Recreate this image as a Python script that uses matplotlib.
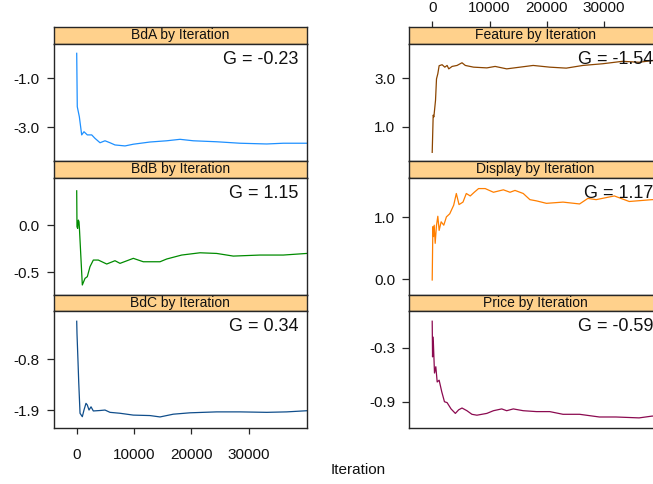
""" Trace plots of the sampled parameters by iteration ( lattice style panels ) """

import matplotlib
matplotlib.use( 'Agg' )
import matplotlib.pyplot as plt

plt.rcParams['font.family'] = [ 'Liberation Sans' , 'DejaVu Sans' ]

### Figure size in pixels
W , H = 653 , 484

### Panel names, colours and Geweke statistics
names = [ 'BdA' , 'BdB' , 'BdC' , 'Feature' , 'Display' , 'Price' ]
colors = [ '#1E90FF' , '#008B00' , '#104E8B' , '#8B4500' , '#FF7F00' , '#8B0A50' ]
g_values = [ '-0.23' , '1.15' , '0.34' , '-1.54' , '1.17' , '-0.59' ]

x_ticks = [ 0 , 10000 , 20000 , 30000 ]

### y ticks
y_ticks = [ [ -1.0 , -3.0 ] , [ 0.0 , -0.5 ] , [ -0.8 , -1.9 ] ,
            [ 3.0 , 1.0 ] , [ 1.0 , 0.0 ] , [ -0.3 , -0.9 ] ]
y_labels = [ [ '-1.0' , '-3.0' ] , [ '0.0' , '-0.5' ] , [ '-0.8' , '-1.9' ] ,
             [ '3.0' , '1.0' ] , [ '1.0' , '0.0' ] , [ '-0.3' , '-0.9' ] ]
y_limits = [ ( -4.375 , 0.40 ) , ( -0.74 , 0.504 ) , ( -2.297 , 0.254 ) ,
             ( -0.40 , 4.40 ) , ( -0.26 , 1.65 ) , ( -1.196 , 0.111 ) ]

### Traces ( iteration , value )
bda_iter = [ 0 , 100 , 460 , 870 , 1270 , 1850 , 2620 , 3190 , 4070 , 4940 , 5810 , 6680 ,
             8430 , 9880 , 12790 , 15700 , 18030 , 20350 , 24430 , 28500 , 33160 , 36060 , 40140 ]
bda_value = [ 0.02 , -2.16 , -2.57 , -3.31 , -3.18 , -3.31 , -3.31 , -3.45 , -3.63 , -3.55 , -3.63 , -3.72 ,
              -3.76 , -3.69 , -3.60 , -3.55 , -3.49 , -3.55 , -3.59 , -3.65 , -3.68 , -3.65 , -3.65 ]

bdb_iter = [ 0 , 50 , 170 , 290 , 400 , 460 , 980 , 1450 , 1850 , 2320 , 2900 , 3770 , 5240 , 6680 ,
             7560 , 9880 , 11620 , 14540 , 15700 , 18320 , 21520 , 24430 , 27330 , 31990 , 36060 , 40140 ]
bdb_value = [ 0.363 , -0.018 , -0.035 , 0.053 , 0.035 , -0.018 , -0.634 , -0.564 , -0.546 , -0.44 , -0.37 ,
              -0.37 , -0.412 , -0.377 , -0.405 , -0.352 , -0.388 , -0.388 , -0.359 , -0.317 , -0.293 , -0.30 ,
              -0.328 , -0.317 , -0.317 , -0.30 ]

bdc_iter = [ 0 , 50 , 230 , 350 , 580 , 980 , 1270 , 1620 , 1850 , 2150 , 2500 , 2900 , 4070 , 4940 ,
             5810 , 7560 , 9880 , 12790 , 14540 , 16860 , 19780 , 24430 , 28500 , 33160 , 36640 , 40140 ]
bdc_value = [ 0.031 , -0.236 , -0.852 , -1.286 , -1.97 , -2.045 , -1.90 , -1.754 , -1.79 , -1.90 , -1.83 ,
              -1.92 , -1.91 , -1.90 , -1.95 , -1.97 , -2.01 , -2.02 , -2.05 , -1.99 , -1.96 , -1.94 , -1.94 ,
              -1.95 , -1.94 , -1.915 ]

feature_iter = [ 0 , 173 , 290 , 578 , 750 , 980 , 1210 , 1730 , 2200 , 2600 , 2890 , 3470 , 4330 , 5200 ,
                 5780 , 7220 , 9540 , 10980 , 13000 , 15310 , 17620 , 20510 , 23400 , 26290 , 29760 ,
                 33220 , 36110 , 38360 , 40140 ]
feature_value = [ -0.045 , 1.48 , 1.41 , 2.09 , 2.97 , 3.18 , 3.51 , 3.55 , 3.45 , 3.52 , 3.38 , 3.48 ,
                  3.52 , 3.63 , 3.52 , 3.45 , 3.42 , 3.48 , 3.38 , 3.45 , 3.52 , 3.45 , 3.41 , 3.52 , 3.59 ,
                  3.69 , 3.65 , 3.72 , 3.74 ]

display_iter = [ 0 , 115 , 230 , 350 , 520 , 750 , 980 , 1210 , 1560 , 2020 , 2480 , 3060 , 3750 , 4210 ,
                 4680 , 5370 , 5950 , 6640 , 7340 , 8090 , 9250 , 10690 , 12420 , 13580 , 14450 , 15890 ,
                 17050 , 18200 , 19940 , 22830 , 25720 , 27170 , 28610 , 31790 , 34390 , 38380 , 40140 ]
display_value = [ -0.016 , 0.85 , 0.69 , 0.875 , 0.58 , 0.875 , 1.02 , 0.79 , 0.93 , 0.875 , 1.01 , 1.06 ,
                  1.20 , 1.39 , 1.21 , 1.25 , 1.39 , 1.35 , 1.41 , 1.47 , 1.47 , 1.41 , 1.45 , 1.41 , 1.44 ,
                  1.39 , 1.29 , 1.27 , 1.23 , 1.25 , 1.22 , 1.31 , 1.29 , 1.35 , 1.26 , 1.29 , 1.29 ]

price_iter = [ 0 , 60 , 170 , 400 , 630 , 870 , 1210 , 1670 , 2140 , 2600 , 3290 , 4040 , 4620 , 5200 ,
               6060 , 6930 , 7800 , 9530 , 10690 , 12130 , 13000 , 14150 , 15890 , 18200 , 20510 , 22830 ,
               25720 , 29180 , 32070 , 36110 , 38380 , 40140 ]
price_value = [ -0.003 , -0.40 , -0.18 , -0.58 , -0.51 , -0.68 , -0.66 , -0.79 , -0.90 , -0.91 , -0.98 ,
                -1.03 , -0.99 , -0.97 , -1.00 , -1.04 , -1.05 , -1.03 , -1.00 , -0.98 , -1.00 , -0.98 ,
                -1.00 , -1.01 , -1.01 , -1.04 , -1.04 , -1.07 , -1.07 , -1.08 , -1.06 , -1.06 ]

traces = [ ( bda_iter , bda_value ) , ( bdb_iter , bdb_value ) , ( bdc_iter , bdc_value ) ,
           ( feature_iter , feature_value ) , ( display_iter , display_value ) , ( price_iter , price_value ) ]

### Layout in pixels
col_left = [ 53.5 , 409.0 ]
col_width = 253.2
strip_tops = [ 27.0 , 161.0 , 295.0 ]
panel_tops = [ 44.0 , 177.5 , 311.0 ]
panel_bottoms = [ 161.0 , 295.0 , 428.3 ]
x_limits = ( -4050 , 40140 )

strip_color = '#FFD18C'
frame_color = '#262626'
text_color = '#111111'

def figRect( left , top , width , height ):
    """ Pixel box ( top-left origin ) to figure fraction rectangle """
    return [ left / W , 1 - ( top + height ) / H , width / W , height / H ]

def styleFrame( ax ):
    for spine in ax.spines.values():
        spine.set_color( frame_color )
        spine.set_linewidth( 1.0 )

fig = plt.figure( figsize = ( W / 100 , H / 100 ) , dpi = 100 )

for index , name in enumerate( names ):
    col = index // 3
    row = index % 3
    left = col_left[ col ]

    ### Strip with the panel title
    strip = fig.add_axes( figRect( left , strip_tops[ row ] , col_width , panel_tops[ row ] - strip_tops[ row ] ) )
    strip.set_facecolor( strip_color )
    strip.set_xlim( x_limits )
    strip.set_yticks( [] )
    strip.text( 0.5 , 0.5 , name + ' by Iteration' , transform = strip.transAxes ,
                ha = 'center' , va = 'center' , fontsize = 10 , color = text_color )
    styleFrame( strip )
    if( col == 1 and row == 0 ):
        strip.xaxis.tick_top()
        strip.set_xticks( x_ticks )
        strip.tick_params( axis = 'x' , length = 4 , width = 0.9 , pad = 5 , labelsize = 11 ,
                           color = frame_color , labelcolor = text_color )
    else:
        strip.set_xticks( [] )

    ### Trace panel
    ax = fig.add_axes( figRect( left , panel_tops[ row ] , col_width , panel_bottoms[ row ] - panel_tops[ row ] ) )
    iterations , values = traces[ index ]
    ax.plot( iterations , values , color = colors[ index ] , linewidth = 0.9 )
    ax.set_xlim( x_limits )
    ax.set_ylim( y_limits[ index ] )
    ax.set_yticks( y_ticks[ index ] )
    ax.set_yticklabels( y_labels[ index ] )
    ax.tick_params( axis = 'y' , length = 5 , width = 0.9 , pad = 5 , labelsize = 11 ,
                    color = frame_color , labelcolor = text_color )
    if( col == 0 and row == 2 ):
        ax.set_xticks( x_ticks )
        ax.tick_params( axis = 'x' , length = 4 , width = 0.9 , pad = 10 , labelsize = 11 ,
                        color = frame_color , labelcolor = text_color )
    else:
        ax.set_xticks( [] )
    styleFrame( ax )

    ### Geweke statistic in the upper right corner
    ax.annotate( 'G = ' + g_values[ index ] , xy = ( 1 , 1 ) , xycoords = 'axes fraction' ,
                 xytext = ( -8.5 , -7 ) , textcoords = 'offset pixels' ,
                 ha = 'right' , va = 'top' , fontsize = 13 , color = text_color )

### Shared x label
fig.text( 357.7 / W , 1 - 470 / H , 'Iteration' , ha = 'center' , va = 'center' , fontsize = 11 , color = text_color )

fig.savefig( 'out.png' , dpi = 100 )
